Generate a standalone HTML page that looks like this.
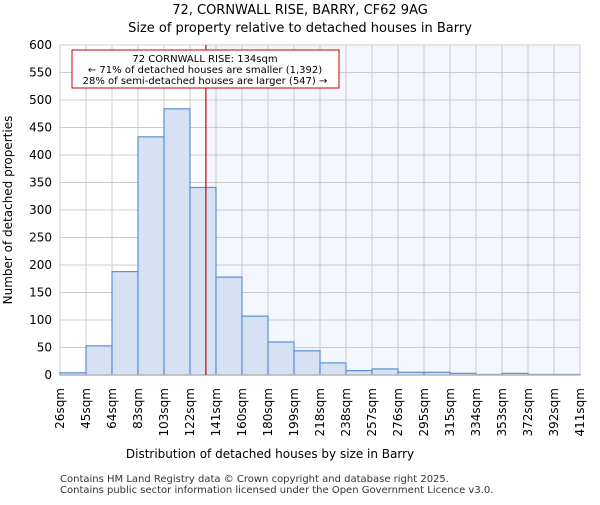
<!DOCTYPE html>
<html><head><meta charset="utf-8"><style>body{margin:0;background:#fff}svg{font-family:"DejaVu Sans","Liberation Sans",sans-serif}</style></head>
<body>
<svg id="chart" width="600" height="500">
<text x="300" y="14" text-anchor="middle" font-size="13">72, CORNWALL RISE, BARRY, CF62 9AG</text>
<text x="300" y="32" text-anchor="middle" font-size="13">Size of property relative to detached houses in Barry</text>
<g id="plot"></g>
<text x="270" y="458" text-anchor="middle" font-size="12">Distribution of detached houses by size in Barry</text>
<text transform="translate(12,210) rotate(-90)" text-anchor="middle" font-size="12">Number of detached properties</text>
<text x="60" y="482" font-size="10" fill="#333">Contains HM Land Registry data © Crown copyright and database right 2025.</text>
<text x="60" y="493" font-size="10" fill="#333">Contains public sector information licensed under the Open Government Licence v3.0.</text>
</svg>
<script>
const categories=["26sqm","45sqm","64sqm","83sqm","103sqm","122sqm","141sqm","160sqm","180sqm","199sqm","218sqm","238sqm","257sqm","276sqm","295sqm","315sqm","334sqm","353sqm","372sqm","392sqm","411sqm"];
const counts=[4,53,188,433,484,341,178,107,60,44,22,8,11,5,5,3,1,3,1,1];
const yTicks=[0,50,100,150,200,250,300,350,400,450,500,550,600];
const propertySize=134;
const binStart=26, binWidth=19.25;
const X0=60,X1=580,Y0=375,Y1=45,YMAX=600;
const ns="http://www.w3.org/2000/svg";
const g=document.getElementById('plot');
const bw=(X1-X0)/counts.length;
const xs=v=>X0+(v-binStart)/binWidth*bw;
const ys=v=>Y0-(v/YMAX)*(Y0-Y1);
function mk(t,a){const e=document.createElementNS(ns,t);for(const k in a)e.setAttribute(k,a[k]);g.appendChild(e);return e;}
const px=xs(propertySize);
let bg=mk('rect',{x:px,y:Y1,width:X1-px,height:Y0-Y1,fill:'#f3f6fd'});


for(let i=0;i<categories.length;i++){const x=X0+i*bw;let l=mk('line',{x1:x,x2:x,y1:Y1,y2:Y0,stroke:'#ccc','stroke-width':1});


let t=mk('text',{transform:`translate(${x+4},388) rotate(-90)`,'text-anchor':'end','font-size':12});t.textContent=categories[i];

}
yTicks.forEach(v=>{const y=ys(v);let l=mk('line',{x1:X0,x2:X1,y1:y,y2:y,stroke:'#ccc','stroke-width':1});


let t=mk('text',{x:X0-8,y:y+4,'text-anchor':'end','font-size':12});t.textContent=v;

});
counts.forEach((c,i)=>{let r=mk('rect',{x:X0+i*bw,y:ys(c),width:bw,height:Y0-ys(c),fill:'#d6e2f4',stroke:'#5b8fd6','stroke-width':1.2});

});
let ax=mk('line',{x1:X0,x2:X1,y1:Y0,y2:Y0,stroke:'#bbb','stroke-width':1.5});


let rl=mk('line',{x1:px,x2:px,y1:Y1,y2:Y0,stroke:'#cc0000','stroke-width':1.2});


let box=mk('rect',{x:72,y:50,width:267,height:38,fill:'#fff',stroke:'#cc0000','stroke-width':1});


["72 CORNWALL RISE: 134sqm","← 71% of detached houses are smaller (1,392)","28% of semi-detached houses are larger (547) →"].forEach((s,i)=>{let t=mk('text',{x:205,y:62+i*11,'text-anchor':'middle','font-size':10});t.textContent=s;

});
</script>
</body></html>
